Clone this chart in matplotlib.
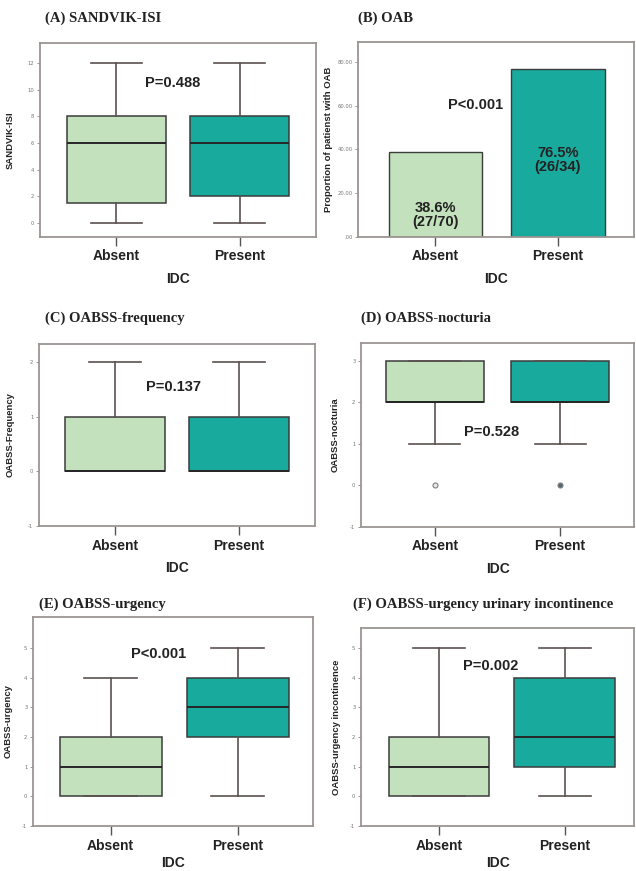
import matplotlib
matplotlib.use("Agg")
import matplotlib.pyplot as plt
from matplotlib.ticker import FixedLocator, FixedFormatter

# ---- data -------------------------------------------------------------
groups = ["Absent", "Present"]

# five-number summaries: [whisker low, Q1, median, Q3, whisker high]
sandvik_absent = [0, 1.5, 6, 8, 12]
sandvik_present = [0, 2, 6, 8, 12]
freq_absent = [0, 0, 0, 1, 2]
freq_present = [0, 0, 0, 1, 2]
noct_absent = [1, 2, 2, 3, 3]
noct_present = [1, 2, 2, 3, 3]
noct_outliers_absent = [0]
noct_outliers_present = [0]
urg_absent = [0, 0, 1, 2, 4]
urg_present = [0, 2, 3, 4, 5]
uui_absent = [0, 0, 1, 2, 5]
uui_present = [0, 1, 2, 4, 5]

oab_pct = [38.6, 76.5]
oab_counts = ["27/70", "26/34"]

p_values = ["P=0.488", "P<0.001", "P=0.137", "P=0.528", "P<0.001", "P=0.002"]
titles = ["(A) SANDVIK-ISI", "(B) OAB", "(C) OABSS-frequency",
          "(D) OABSS-nocturia", "(E) OABSS-urgency",
          "(F) OABSS-urgency urinary incontinence"]
ylabels = ["SANDVIK-ISI", "Proportion of patienst with OAB", "OABSS-Frequency",
           "OABSS-nocturia", "OABSS-urgency", "OABSS-urgency incontinence"]

# ---- style ------------------------------------------------------------
W, H = 636, 871
LIGHT = "#c3e1bc"
TEAL = "#19aa9e"
EDGE = "#3c3c3c"
WHISK = "#5a5250"
FRAME = "#9b9592"
SANS = ["Liberation Sans", "DejaVu Sans"]
SERIF = ["Liberation Serif", "DejaVu Serif"]

fig = plt.figure(figsize=(W / 100, H / 100), dpi=100)
fig.patch.set_facecolor("white")


def make_axes(left, right, top, bottom):
    return fig.add_axes([left / W, 1 - bottom / H, (right - left) / W, (bottom - top) / H])


def style_axes(ax, ylabel, yticks, yticklabels, ylim, xlim, label_x, labelpad=6):
    for s in ax.spines.values():
        s.set_color(FRAME)
        s.set_linewidth(1.3)
    ax.set_ylim(*ylim)
    ax.set_xlim(*xlim)
    ax.yaxis.set_major_locator(FixedLocator(yticks))
    ax.yaxis.set_major_formatter(FixedFormatter(yticklabels))
    ax.tick_params(axis="y", length=2.5, width=0.6, color="#888888",
                   labelsize=3.8, labelcolor="#777777", pad=1.5)
    ax.set_xticks([0, 1])
    ax.set_xticklabels(groups, fontsize=10, fontweight="bold", family=SANS, color="#222222")
    ax.tick_params(axis="x", length=6.5, width=1.0, color="#555555", pad=2.5)
    ax.set_xlabel("IDC", fontsize=10, fontweight="bold", family=SANS, color="#222222",
                  labelpad=labelpad)
    ax.set_ylabel(ylabel, fontsize=6.8, fontweight="bold", family=SANS, color="#222222")
    ax.yaxis.set_label_coords(label_x, 0.5)


def draw_boxes(ax, summaries, outliers=None, width=0.8):
    stats = []
    for i, s in enumerate(summaries):
        stats.append(dict(whislo=s[0], q1=s[1], med=s[2], q3=s[3], whishi=s[4],
                          fliers=(outliers[i] if outliers else [])))
    parts = ax.bxp(stats, positions=[0, 1], widths=width, patch_artist=True,
                   showfliers=bool(outliers), capwidths=width * 0.52,
                   boxprops=dict(edgecolor=EDGE, linewidth=1.1),
                   medianprops=dict(color="#262626", linewidth=1.4),
                   whiskerprops=dict(color=WHISK, linewidth=1.2),
                   capprops=dict(color=WHISK, linewidth=1.2))
    for patch, c in zip(parts["boxes"], [LIGHT, TEAL]):
        patch.set_facecolor(c)
    if outliers:
        for fl, fc in zip(parts["fliers"], ["#e6e6e6", "#4d6b70"]):
            fl.set_marker("o")
            fl.set_markersize(3.6)
            fl.set_markerfacecolor(fc)
            fl.set_markeredgecolor("#808080")
            fl.set_markeredgewidth(0.8)
    ax.set_xticks([0, 1])


def p_text(ax, x, y, s):
    ax.text(x, y, s, ha="center", va="center", fontsize=10.5, fontweight="bold",
            family=SANS, color="#222222")


def title(x, y, s):
    fig.text(x / W, 1 - y / H, s, ha="left", va="center", fontsize=10.5,
             fontweight="bold", family=SERIF, color="#222222")


# ---- (A) SANDVIK-ISI --------------------------------------------------
axA = make_axes(40, 316, 43, 237)
draw_boxes(axA, [sandvik_absent, sandvik_present])
style_axes(axA, ylabels[0], list(range(0, 13, 2)), [str(v) for v in range(0, 13, 2)],
           (-1.05, 13.5), (-0.62, 1.62), -0.09)
p_text(axA, 0.46, 10.5, p_values[0])
title(45, 18, titles[0])

# ---- (B) OAB ----------------------------------------------------------
axB = make_axes(358, 634, 42, 237)
axB.bar([0, 1], oab_pct, width=0.76, color=[LIGHT, TEAL], edgecolor=EDGE, linewidth=1.0)
style_axes(axB, ylabels[1], [0, 20, 40, 60, 80], [".00", "20.00", "40.00", "60.00", "80.00"],
           (0, 89), (-0.63, 1.62), -0.09)
for i, (pct, cnt) in enumerate(zip(oab_pct, oab_counts)):
    ypos = pct * 0.26 if i == 0 else pct * 0.46
    axB.text(i, ypos, f"{pct}%\n({cnt})", ha="center", va="center", fontsize=10.5,
             fontweight="bold", family=SANS, color="#222222", linespacing=1.0)
p_text(axB, 0.33, 60.4, p_values[1])
title(358, 18, titles[1])

# ---- (C) OABSS-frequency ---------------------------------------------
axC = make_axes(39, 315, 344, 526)
draw_boxes(axC, [freq_absent, freq_present])
style_axes(axC, ylabels[2], [-1, 0, 1, 2], ["-1", "0", "1", "2"],
           (-1, 2.33), (-0.61, 1.61), -0.088)
p_text(axC, 0.47, 1.55, p_values[2])
title(45, 318, titles[2])

# ---- (D) OABSS-nocturia ----------------------------------------------
axD = make_axes(361, 634, 343, 527)
draw_boxes(axD, [noct_absent, noct_present],
           outliers=[noct_outliers_absent, noct_outliers_present], width=0.78)
style_axes(axD, ylabels[3], [-1, 0, 1, 2, 3], ["-1", "0", "1", "2", "3"],
           (-1, 3.43), (-0.59, 1.59), -0.078)
p_text(axD, 0.45, 1.28, p_values[3])
title(361, 318, titles[3])

# ---- (E) OABSS-urgency -----------------------------------------------
axE = make_axes(33, 313, 617, 826)
draw_boxes(axE, [urg_absent, urg_present])
style_axes(axE, ylabels[4], list(range(-1, 6)), [str(v) for v in range(-1, 6)],
           (-1, 6.05), (-0.61, 1.59), -0.072, labelpad=2.5)
p_text(axE, 0.38, 4.8, p_values[4])
title(39, 604, titles[4])

# ---- (F) OABSS-urgency urinary incontinence --------------------------
axF = make_axes(361, 634, 628, 826)
draw_boxes(axF, [uui_absent, uui_present])
style_axes(axF, ylabels[5], list(range(-1, 6)), [str(v) for v in range(-1, 6)],
           (-1, 5.68), (-0.62, 1.55), -0.075, labelpad=2.5)
p_text(axF, 0.41, 4.4, p_values[5])
title(353, 604, titles[5])

fig.savefig("out.png", dpi=100, facecolor="white")
